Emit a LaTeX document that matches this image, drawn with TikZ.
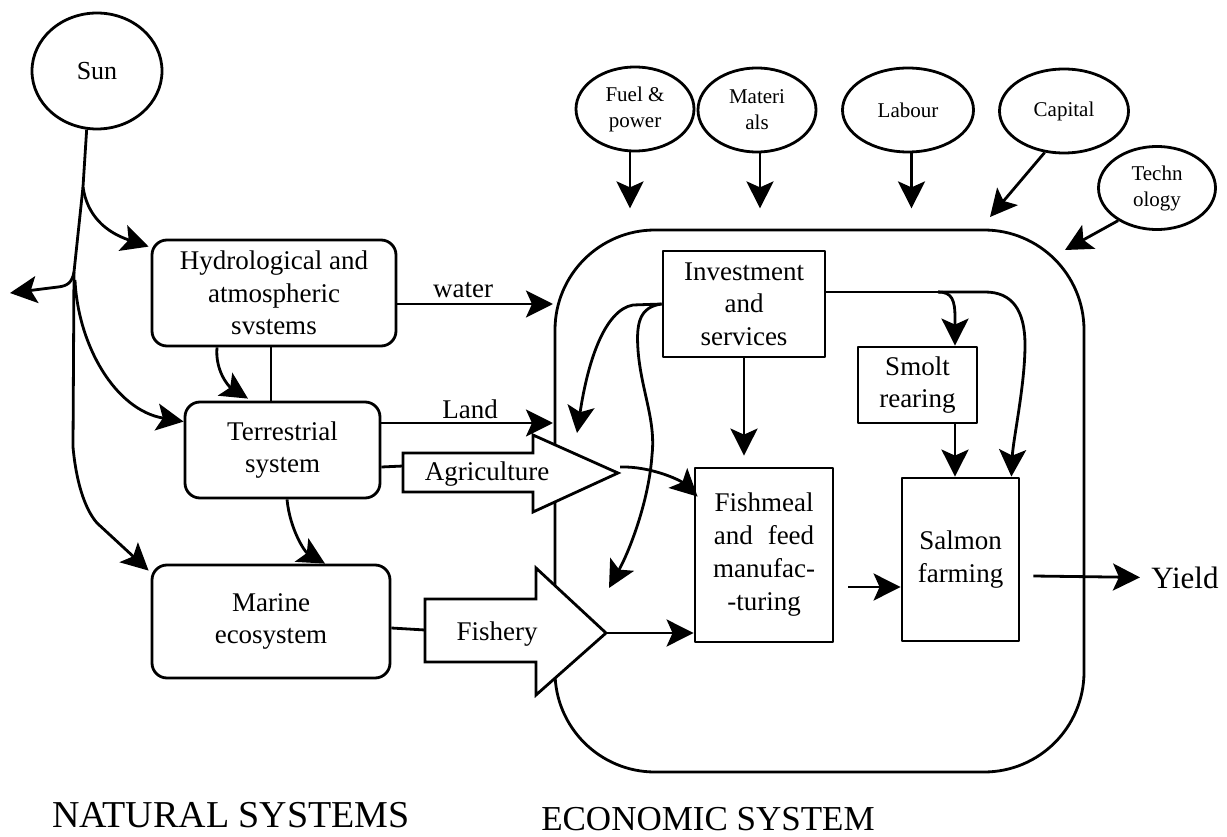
\documentclass[tikz,border=0pt]{standalone}
\usepackage{fontspec}
\setmainfont{Liberation Serif}
\usetikzlibrary{arrows.meta,shapes.geometric,calc}

\begin{document}
\begin{tikzpicture}[x=1pt,y=-1pt,
  line width=2.8pt, line join=round,
  arr/.style={-{Stealth[length=27pt,width=27pt,inset=6pt]}},
  src/.style={draw, ellipse, inner sep=0pt, align=center, font=\fontsize{21}{26}\selectfont},
  nat/.style={draw, rounded corners=15pt, inner sep=0pt, align=center, font=\fontsize{27}{32.5}\selectfont},
  eco/.style={draw, rectangle, inner sep=0pt, align=center, font=\fontsize{27}{32.5}\selectfont},
  lbl/.style={anchor=base, inner sep=0pt, font=\fontsize{27}{32}\selectfont},
  flow/.style={draw, fill=white, line join=miter},
  title/.style={anchor=base, inner sep=0pt},
]
\useasboundingbox (0,0) rectangle (1227,837);

% ---- economic system frame ----
\node[draw, rounded corners=100pt, minimum width=529pt, minimum height=542pt, inner sep=0pt] (econ) at (819.5,501) {};

% ---- sources ----
\node[src, minimum width=130pt, minimum height=116pt, font=\fontsize{26}{30}\selectfont] (sun) at (97,71) {Sun};
\node[src, minimum width=118pt, minimum height=84pt] (fuel) at (635,109) {Fuel \&\\power};
\node[src, minimum width=118pt, minimum height=84pt] (mat)  at (757,110) {Materi\\als};
\node[src, minimum width=131pt, minimum height=84pt] (lab)  at (908,110) {Labour};
\node[src, minimum width=129pt, minimum height=84pt] (cap)  at (1064,111) {Capital};
\node[src, minimum width=117pt, minimum height=83pt] (tech) at (1157,188) {Techn\\ology};

% ---- natural systems ----
\node[nat, minimum width=244pt, minimum height=106pt] (hydro)  at (274,293) {Hydrological and\\atmospheric\\svstems};
\node[nat, minimum width=195pt, minimum height=96pt]  (terr)   at (282.5,450) {Terrestrial\\system};
\node[nat, minimum width=238pt, minimum height=113pt] (marine) at (271,621.5) {Marine\\ecosystem};

% ---- economic activities ----
\node[eco, minimum width=162pt, minimum height=106pt] (invest) at (744,304) {Investment\\and\\services};
\node[eco, minimum width=119pt, minimum height=76pt]  (smolt)  at (917.5,385) {Smolt\\rearing};
\node[eco, minimum width=138pt, minimum height=174pt, font=\fontsize{27}{33}\selectfont] (fish) at (764,555)
  {Fishmeal\\and\hspace{15pt}feed\\manufac-\\-turing};
\node[eco, minimum width=117pt, minimum height=163pt] (salmon) at (960.5,559.5) {Salmon\\farming};
\node[anchor=base west, inner sep=0pt, font=\fontsize{31}{34}\selectfont] (yield) at (1150,588) {Yield};

% ---- harvest flows ----
\coordinate (agritail) at (403,466);
\coordinate (agritip)  at (618,473);
\draw[flow] (403,453) -- (533,453) -- (533,435) -- (agritip) -- (533,512) -- (533,492) -- (403,492) -- cycle;
\node[lbl] (agri) at (487,480) {Agriculture};

\coordinate (fishtail) at (425,630);
\coordinate (fishtip)  at (606,633);
\draw[flow] (425,599) -- (536,599) -- (536,568) -- (fishtip) -- (536,695) -- (536,662) -- (425,662) -- cycle;
\node[lbl] (fishery) at (497,640) {Fishery};

% ---- solar energy ----
\coordinate (s1) at (83,187);
\coordinate (s2) at (74,272);
\coordinate (leak) at (10,293);
\draw[arr] (sun.-100) -- (s1) -- (s2) -- (73,447) .. controls (76,480) and (84,508) .. (97,523) -- ($(marine.north west)+(-2,7)$);
\draw[arr] (s2) .. controls (72,283) and (67,286) .. (58,287) -- (leak);
\draw[arr] (s1) .. controls (87,215) and (105,232) .. ($(hydro.north west)+(-2,8)$);
\draw[arr] (75,280) .. controls (78,345) and (115,410) .. ($(terr.north west)+(0,21)$);

% ---- links between natural systems ----
\draw[arr] ($(hydro.south)+(-57,0)$) .. controls (215,370) and (228,386) .. ($(terr.north)+(-34.5,-2)$);
\draw ($(hydro.south)+(-3,0)$) -- ($(terr.north)+(-11.5,0)$);
\draw[arr] ($(terr.south)+(4.5,0)$) .. controls (290,530) and (305,552) .. ($(marine.north)+(54,0)$);

% ---- flows into the economic system ----
\coordinate (waterin) at (553,304);
\coordinate (landin)  at (553,423);
\draw[arr] ($(hydro.east)+(0,11)$) -- (waterin);
\node[lbl] (water) at (463,298) {water};
\draw[arr] ($(terr.east)+(0,-27)$) -- (landin);
\node[lbl] (land) at (470,418) {Land};
\draw ($(terr.east)+(0,17)$) -- (agritail);
\draw ($(marine.east)+(0,6.5)$) -- (fishtail);
\draw[arr] ($(agritip)+(2,-6)$) .. controls (650,466) and (680,480) .. ($(fish.north west)+(4,30)$);
\draw[arr] (fishtip) -- (fish.west |- fishtip);

% ---- production factors ----
\coordinate (capin)  at (990,217);
\coordinate (techin) at (1065,250);
\draw[arr] ($(fuel.south)+(-5,0)$) -- ++(0,56);
\draw[arr] ($(mat.south)+(3,0)$) -- ++(0,55);
\draw[arr] ($(lab.south)+(3.5,0)$) -- ++(0,55);
\draw[arr] (cap.-115) -- (capin);
\draw[arr] (tech.-140) -- (techin);

% ---- investment and services ----
\coordinate (fork) at (938,292);
\coordinate (inv1) at (577,433);
\coordinate (inv2) at (609,588);
\draw[arr, shorten >=11pt] (invest.south) -- (invest.south |- fish.north);
\draw ($(invest.east)+(0,-12)$) -- (fork);
\draw[arr] (fork) .. controls (952,292) and (955,300) .. (955,318) -- ($(smolt.north)+(37.5,0)$);
\draw[arr] (fork) -- (985,292) .. controls (1012,292) and (1025,310) .. (1025,345)
  .. controls (1025,385) and (1013,440) .. ($(salmon.north east)+(-9,0)$);
\draw[arr] (invest.west) -- (633,305) .. controls (605,310) and (588,360) .. (inv1);
\draw[arr] (invest.west) .. controls (640,307) and (636,322) .. (638,350)
  .. controls (641,390) and (656,420) .. (652,455)
  .. controls (649,500) and (630,550) .. (inv2);

% ---- salmon production chain ----
\draw[arr] ($(smolt.south)+(37.5,0)$) -- ($(salmon.north)+(-5.5,0)$);
\draw[arr] ($(fish.east)+(14,32)$) -- ($(salmon.west)+(0,27.5)$);
\draw[arr] ($(salmon.east)+(13,16.5)$) -- ($(yield.west)+(-10,0)$);

% ---- headings ----
\node[title, font=\fontsize{38}{40}\selectfont] (natural) at (231,827) {NATURAL SYSTEMS};
\node[title, font=\fontsize{35}{38}\selectfont] (economic) at (708,830) {ECONOMIC SYSTEM};
\end{tikzpicture}
\end{document}
